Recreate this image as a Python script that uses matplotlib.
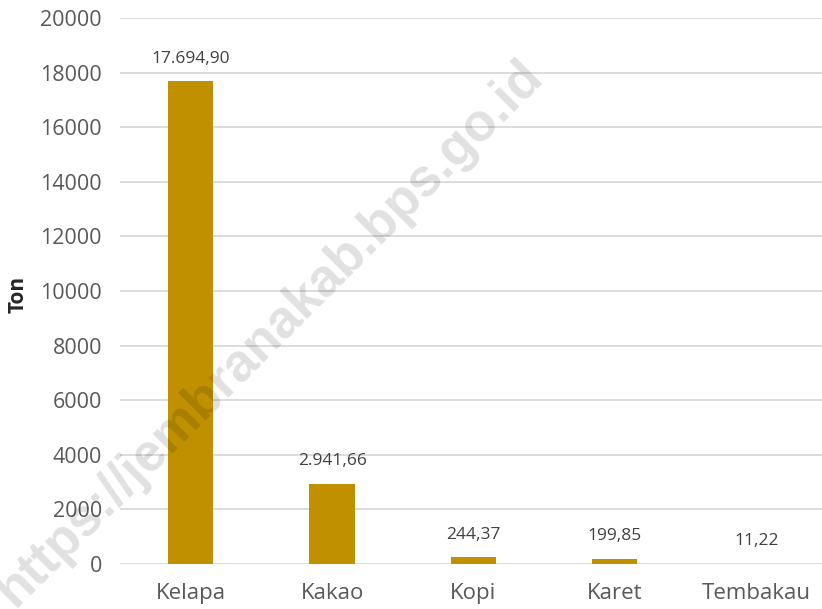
import numpy as np
import matplotlib
matplotlib.use("Agg")
import matplotlib.pyplot as plt

# data
kategori = ["Kelapa", "Kakao", "Kopi", "Karet", "Tembakau"]
produksi = [17694.90, 2941.66, 244.37, 199.85, 11.22]
label_nilai = ["17.694,90", "2.941,66", "244,37", "199,85", "11,22"]
yticks = [0, 2000, 4000, 6000, 8000, 10000, 12000, 14000, 16000, 18000, 20000]

plt.rcParams["font.family"] = ["Open Sans", "DejaVu Sans"]

fig = plt.figure(figsize=(8.22, 6.09), dpi=100)
ax = fig.add_axes([120 / 822, 45 / 609, 702 / 822, 546 / 609])

x = np.arange(len(kategori))
ax.bar(x, produksi, width=0.32, color="#C09000", zorder=2)

for xi, v, lab in zip(x, produksi, label_nilai):
    ax.text(xi, v + 520, lab, ha="center", va="bottom", fontsize=12.5, color="#404040")

ax.set_xlim(-0.5, 4.465)
ax.set_ylim(0, 20000)
ax.set_yticks(yticks)
ax.set_yticklabels([str(t) for t in yticks])
ax.set_xticks(x)
ax.set_xticklabels(kategori)
ax.tick_params(axis="y", length=0, pad=13, labelsize=15.5, labelcolor="#595959")
ax.tick_params(axis="x", length=0, pad=14, labelsize=16, labelcolor="#595959")
ax.grid(axis="y", color="#d9d9d9", linewidth=1.3, zorder=0)
ax.set_axisbelow(True)
for s in ax.spines.values():
    s.set_visible(False)

fig.text(18 / 822, 1 - 294 / 609, "Ton", rotation=90, ha="center", va="center",
         fontsize=15, fontweight="bold", color="#262626")

# watermark
fig.text(270 / 822, 1 - 333 / 609, "https://jembranakab.bps.go.id", rotation=45,
         ha="center", va="center", fontsize=38, fontweight="bold",
         family="Liberation Sans", color=(0, 0, 0, 0.12), rotation_mode="anchor",
         zorder=10)

fig.savefig("out.png", dpi=100)
